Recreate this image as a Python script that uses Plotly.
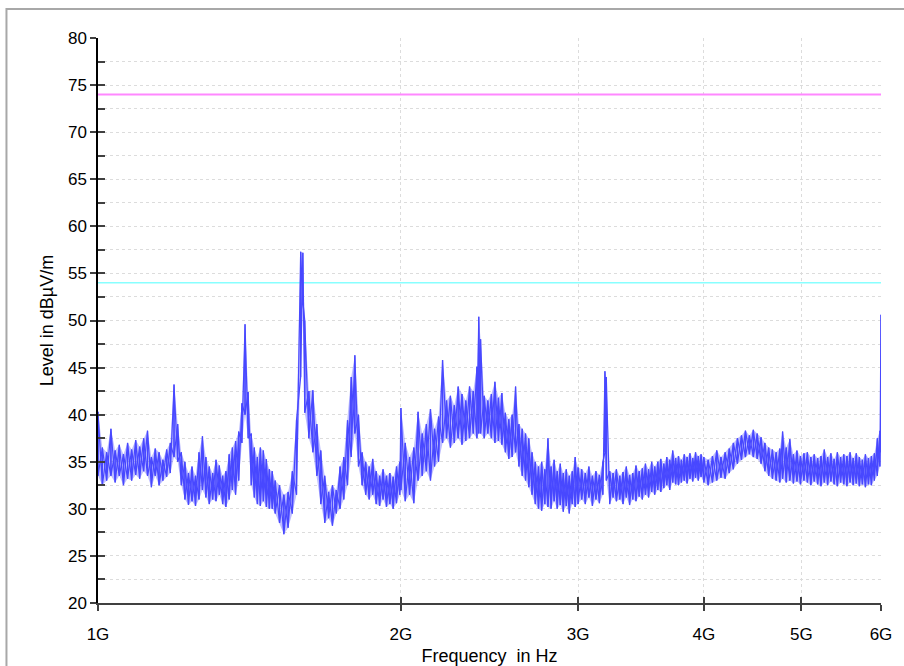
import plotly.graph_objects as go

# ---- data (frequencies in MHz, levels in dBµV/m) ----
freq_mhz = [
    1000, 1010, 1020, 1030, 1040, 1050, 1060, 1070, 1080, 1090,
    1100, 1110, 1120, 1130, 1140, 1150, 1160, 1170, 1180, 1190,
    1200, 1210, 1220, 1230, 1240, 1250, 1260, 1270, 1280, 1290,
    1300, 1310, 1320, 1330, 1340, 1350, 1360, 1370, 1380, 1390,
    1400, 1410, 1420, 1430, 1440, 1450, 1460, 1470, 1480, 1490,
    1500, 1515, 1530, 1545, 1560, 1575, 1590, 1598, 1605, 1620,
    1635, 1650, 1665, 1680, 1695, 1710, 1725, 1740, 1755, 1770,
    1785, 1800, 1815, 1830, 1845, 1860, 1875, 1890, 1905, 1920,
    1935, 1950, 1965, 1980, 1995, 2000, 2020, 2040, 2060, 2080,
    2100, 2120, 2140, 2160, 2180, 2200, 2220, 2240, 2260, 2280,
    2300, 2320, 2340, 2360, 2380, 2390, 2400, 2420, 2440, 2460,
    2480, 2500, 2520, 2540, 2560, 2580, 2600, 2620, 2640, 2660,
    2680, 2700, 2720, 2740, 2760, 2780, 2800, 2820, 2840, 2860,
    2880, 2900, 2920, 2940, 2960, 2980, 3000, 3025, 3050, 3075,
    3100, 3125, 3150, 3175, 3190, 3200, 3225, 3250, 3275, 3300,
    3325, 3350, 3375, 3400, 3425, 3450, 3475, 3500, 3525, 3550,
    3575, 3600, 3625, 3650, 3675, 3700, 3725, 3750, 3775, 3800,
    3825, 3850, 3875, 3900, 3925, 3950, 3975, 4000, 4040, 4080,
    4120, 4160, 4200, 4240, 4280, 4320, 4360, 4400, 4440, 4480,
    4520, 4560, 4600, 4640, 4680, 4720, 4760, 4790, 4830, 4870,
    4910, 4950, 4990, 5030, 5070, 5110, 5150, 5190, 5230, 5270,
    5310, 5350, 5390, 5430, 5470, 5510, 5550, 5590, 5630, 5670,
    5710, 5750, 5790, 5830, 5870, 5910, 5950, 5985, 6000,
]

level_low = [
    33.5, 32.5, 33.0, 33.5, 32.8, 33.5, 32.5, 33.2, 33.0, 33.6,
    33.2, 34.0, 33.5, 32.3, 33.5, 32.5, 33.0, 33.4, 33.8, 35.5,
    35.0, 32.5, 31.0, 30.4, 30.8, 30.3, 31.0, 32.0, 31.2, 30.5,
    31.0, 30.8, 31.5, 30.5, 30.2, 31.0, 32.0, 31.5, 33.0, 37.0,
    40.0, 37.5, 32.5, 31.2, 30.5, 30.3, 30.8, 30.2, 30.0, 30.0,
    29.5, 28.5, 27.3, 28.0, 29.5, 31.5, 44.0, 52.0, 40.2, 37.5,
    36.0, 33.5, 30.5, 28.5, 29.0, 28.2, 29.5, 30.0, 31.0, 32.5,
    35.5, 38.0, 34.5, 32.5, 31.5, 31.0, 31.5, 30.5, 30.3, 31.0,
    30.2, 30.5, 30.0, 30.6, 31.5, 32.0, 30.8, 31.5, 30.6, 33.0,
    33.5, 34.0, 33.0, 34.5, 35.0, 37.0, 37.5, 36.5, 37.0, 37.5,
    36.8, 37.2, 37.5, 38.0, 37.5, 38.0, 38.0, 37.5, 38.0, 37.5,
    37.0, 37.2, 36.8, 36.0, 35.3, 35.5, 36.0, 34.5, 33.5, 33.0,
    32.3, 31.5, 30.5, 30.0, 29.8, 30.5, 30.2, 30.0, 30.8, 30.0,
    30.4, 29.7, 30.3, 29.5, 30.5, 30.2, 30.5, 31.0, 30.5, 31.2,
    30.3, 31.0, 30.6, 31.5, 36.0, 33.0, 30.5, 31.2, 30.8, 31.0,
    30.5, 31.2, 30.4, 31.0, 30.8, 31.3, 31.0, 31.5, 31.2, 31.8,
    31.5, 32.0, 31.8, 32.2, 32.5, 32.0, 32.8, 32.6, 32.5, 32.8,
    33.0, 32.7, 33.2, 32.9, 33.3, 33.0, 33.4, 32.8, 32.5, 32.8,
    33.0, 33.3, 33.2, 33.8, 34.2, 34.8, 35.2, 35.5, 35.8, 35.5,
    35.3, 34.8, 34.0, 33.5, 33.2, 33.0, 32.8, 33.2, 32.8, 33.0,
    32.7, 32.9, 32.6, 33.0, 32.8, 32.5, 32.9, 32.6, 32.4, 32.8,
    32.5, 32.9, 32.6, 32.4, 32.8, 32.6, 32.4, 32.8, 32.5, 32.7,
    32.4, 32.6, 32.3, 32.6, 32.5, 33.0, 33.5, 34.5, 36.0,
]

level_high = [
    40.3, 36.5, 36.0, 38.5, 36.2, 36.8, 35.8, 37.0, 36.3, 37.3,
    36.6, 37.5, 38.3, 35.5, 36.4, 36.0, 35.2, 36.3, 37.0, 43.2,
    39.0, 36.0, 35.0, 33.8, 34.5, 33.5, 36.0, 37.7, 35.5, 34.5,
    33.8, 35.2, 34.6, 33.5, 34.0, 35.8, 36.5, 37.2, 38.2, 41.2,
    49.6, 42.4, 38.0, 36.5, 35.5, 36.5, 36.2, 35.3, 34.2, 34.0,
    33.0, 32.5, 31.5, 31.8, 34.0, 39.4, 57.3, 57.2, 50.0, 42.5,
    42.6, 39.0, 36.2, 33.5, 31.8, 32.5, 32.0, 34.5, 35.5, 39.4,
    44.0, 46.3, 40.0, 36.0, 35.0, 34.5, 35.3, 34.0, 33.5, 34.2,
    33.5, 33.8, 33.4, 34.5, 35.0, 40.7, 37.0, 35.5, 36.5, 40.3,
    38.0, 39.0, 40.6, 38.5, 39.8, 45.8, 41.5, 42.0, 41.0, 43.0,
    42.2, 41.5, 43.0, 42.5, 45.1, 50.4, 48.0, 42.0, 41.5, 42.2,
    43.5, 41.8, 42.3, 40.2, 39.5, 40.0, 43.0, 39.0, 38.5, 38.0,
    37.5, 36.0, 35.0, 34.5, 35.0, 34.2, 37.5, 34.5, 35.2, 34.0,
    34.8, 33.8, 34.2, 33.5, 34.0, 35.5, 34.4, 34.2, 33.8, 34.5,
    33.5, 34.0, 33.6, 35.0, 44.6, 44.0, 34.0, 33.8, 34.2, 33.5,
    33.9, 34.5, 33.6, 33.8, 34.6, 34.0, 34.3, 34.8, 34.2, 35.0,
    34.5, 35.0, 35.3, 34.8, 35.5, 35.2, 36.2, 35.4, 35.6, 35.2,
    35.8, 35.5, 35.9, 35.4, 36.0, 35.6, 35.8, 35.5, 35.2, 35.6,
    36.2, 35.5, 36.0, 36.4, 37.0, 37.5, 37.8, 38.3, 37.8, 38.4,
    38.0, 37.6, 37.0, 36.5, 36.3, 36.0, 36.4, 38.2, 36.5, 37.4,
    35.8, 36.2, 35.6, 35.9, 36.0, 35.5, 35.8, 35.4, 35.6, 36.3,
    35.5, 35.9, 35.3, 36.0, 35.5, 35.8, 35.6, 36.0, 35.4, 35.9,
    35.5, 35.2, 35.8, 35.4, 35.6, 35.9, 37.5, 38.3, 50.6,
]

limit_freq = [1000, 6000]
limit_peak = [74, 74]
limit_avg = [54, 54]

x_tickvals = [1000, 2000, 3000, 4000, 5000, 6000]
x_ticktext = ["1G", "2G", "3G", "4G", "5G", "6G"]
y_tickvals = [20, 25, 30, 35, 40, 45, 50, 55, 60, 65, 70, 75, 80]

BLUE = "#4848ff"

# ---- build the measured trace (low/high per sweep point) ----
up_x, up_y, dn_x, dn_y = [], [], [], []
for f, lo, hi in zip(freq_mhz, level_low, level_high):
    up_x += [f, f]
    up_y += [lo, hi]
    dn_x += [f, f]
    dn_y += [hi, lo]
band_x = list(freq_mhz) + list(reversed(freq_mhz))
band_y = list(level_high) + list(reversed(level_low))

FONT = "Liberation Sans, Arial, sans-serif"

fig = go.Figure()
fig.add_trace(go.Scatter(x=limit_freq, y=limit_peak, mode="lines",
                         line=dict(color="#ff88ff", width=2), hoverinfo="skip", showlegend=False))
fig.add_trace(go.Scatter(x=limit_freq, y=limit_avg, mode="lines",
                         line=dict(color="#88ffff", width=1.5), hoverinfo="skip", showlegend=False))
fig.add_trace(go.Scatter(x=band_x, y=band_y, mode="lines", fill="toself",
                         fillcolor="rgba(72,72,255,0.35)", line=dict(width=0),
                         hoverinfo="skip", showlegend=False))
fig.add_trace(go.Scatter(x=up_x, y=up_y, mode="lines",
                         line=dict(color=BLUE, width=1.2), showlegend=False))
fig.add_trace(go.Scatter(x=dn_x, y=dn_y, mode="lines",
                         line=dict(color=BLUE, width=1.2), hoverinfo="skip", showlegend=False))
# helper trace on the overlay axes (inside tick marks)
fig.add_trace(go.Scatter(x=limit_freq, y=limit_peak, mode="lines", xaxis="x2", yaxis="y2",
                         line=dict(color="rgba(0,0,0,0)", width=0), hoverinfo="skip", showlegend=False))

GRID = "#dcdcdc"
fig.update_layout(
    width=904, height=666,
    margin=dict(l=98, r=23, t=38, b=63, autoexpand=False),
    paper_bgcolor="white", plot_bgcolor="white",
    font=dict(family=FONT, size=17, color="#000000"),
    xaxis=dict(
        type="log", range=[3.0, 3.778151], tickvals=x_tickvals, ticktext=x_ticktext,
        ticks="outside", ticklen=6, tickcolor="#404040", tickwidth=1.5,
        showline=True, linecolor="#404040", linewidth=1.5,
        showgrid=True, gridcolor=GRID, griddash="dot", gridwidth=1,
        zeroline=False, ticklabelstandoff=9, automargin=False,
        title=dict(text="Frequency  in Hz", font=dict(family=FONT, size=18), standoff=8),
        tickfont=dict(family=FONT, size=17),
    ),
    yaxis=dict(
        range=[20, 80], tickvals=y_tickvals,
        ticks="outside", ticklen=6, tickcolor="#404040", tickwidth=1.5,
        showline=True, linecolor="#000000", linewidth=1.5,
        showgrid=True, gridcolor=GRID, griddash="dot", gridwidth=1,
        minor=dict(dtick=2.5, showgrid=True, gridcolor=GRID, griddash="dot", gridwidth=1),
        zeroline=False, automargin=False,
        title=dict(text="Level in dBµV/m", font=dict(family=FONT, size=18), standoff=10),
        tickfont=dict(family=FONT, size=17),
    ),
    xaxis2=dict(
        type="log", range=[3.0, 3.778151], tickvals=x_tickvals, showticklabels=False,
        overlaying="x", side="bottom", anchor="y2", automargin=False,
        ticks="inside", ticklen=6, tickcolor="#404040", tickwidth=1.5,
        showline=False, showgrid=False, zeroline=False,
    ),
    yaxis2=dict(
        range=[20, 80], dtick=2.5, tick0=20, showticklabels=False,
        overlaying="y", side="left", anchor="x2", automargin=False,
        ticks="inside", ticklen=7, tickcolor="#404040", tickwidth=1.5,
        showline=False, showgrid=False, zeroline=False,
    ),
    shapes=[dict(type="rect", xref="paper", yref="paper",
                 x0=-0.1169, x1=1.2, y0=-0.3, y1=1.0513,
                 line=dict(color="#a8a8a8", width=2), layer="below")],
)

fig.write_html("out.html")
